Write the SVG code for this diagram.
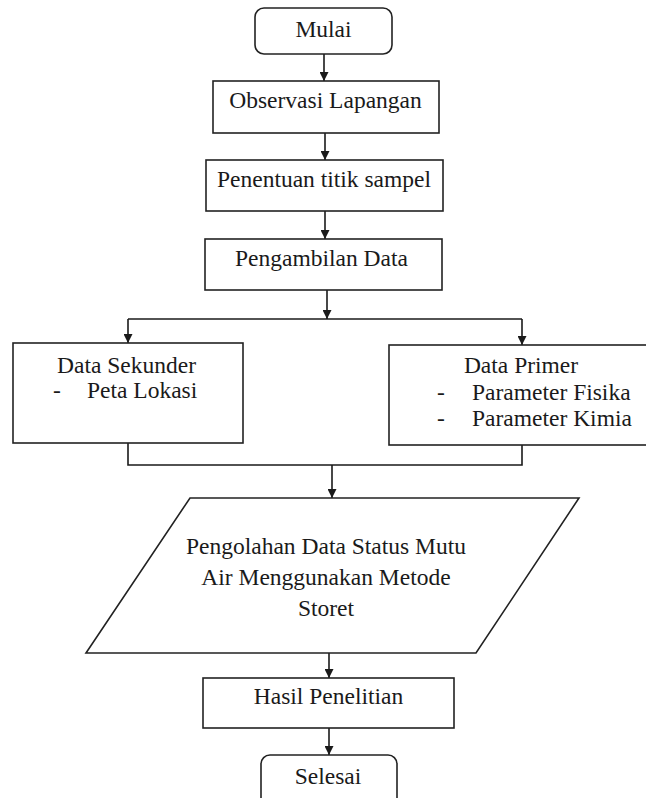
<svg xmlns="http://www.w3.org/2000/svg" width="646" height="798" viewBox="0 0 646 798">
<defs>
<marker id="ah" viewBox="0 0 10 10" refX="10" refY="5" markerWidth="9" markerHeight="9" markerUnits="userSpaceOnUse" orient="auto">
<path d="M0,0 L10,5 L0,10 z" fill="#1a1a1a"/>
</marker>
<style>
.box{fill:#fff;stroke:#222;stroke-width:1.6}
.t{font-family:"Liberation Serif","Times New Roman",serif;font-size:23.5px;fill:#1a1a1a}
.m{text-anchor:middle}
.c{fill:none;stroke:#1a1a1a;stroke-width:1.6}
.a{marker-end:url(#ah)}
</style>
</defs>
<rect width="646" height="798" fill="#fff"/>
<g id="connectors">
<line class="c a" x1="324" y1="54" x2="324" y2="81"/>
<line class="c a" x1="325" y1="133" x2="325" y2="160"/>
<line class="c a" x1="325" y1="211" x2="325" y2="239"/>
<line class="c a" x1="327" y1="290" x2="327" y2="319"/>
<polyline class="c" points="128,319 522,319"/>
<line class="c a" x1="128" y1="319" x2="128" y2="343"/>
<line class="c a" x1="522" y1="319" x2="522" y2="345"/>
<polyline class="c" points="128,443 128,465 522,465 522,445"/>
<line class="c a" x1="332" y1="465" x2="332" y2="498"/>
<line class="c a" x1="329" y1="653" x2="329" y2="678"/>
<line class="c a" x1="329" y1="728" x2="329" y2="755"/>
</g>
<g id="mulai">
<rect class="box" x="255" y="8" width="137" height="46" rx="9"/>
<text class="t m" x="323.5" y="37">Mulai</text>
</g>
<g id="observasi">
<rect class="box" x="213" y="81" width="226" height="52"/>
<text class="t m" x="325.5" y="108">Observasi Lapangan</text>
</g>
<g id="penentuan">
<rect class="box" x="206" y="160" width="237" height="51"/>
<text class="t m" x="324" y="187">Penentuan titik sampel</text>
</g>
<g id="pengambilan">
<rect class="box" x="205" y="239" width="237" height="51"/>
<text class="t m" x="321.5" y="266">Pengambilan Data</text>
</g>
<g id="sekunder">
<rect class="box" x="13" y="343" width="230" height="100"/>
<text class="t m" x="126.5" y="373">Data Sekunder</text>
<text class="t" x="53" y="398">-</text>
<text class="t" x="87" y="398">Peta Lokasi</text>
</g>
<g id="primer">
<rect class="box" x="389" y="345" width="270" height="100"/>
<text class="t m" x="521" y="373">Data Primer</text>
<text class="t" x="437" y="400">-</text>
<text class="t" x="472" y="400">Parameter Fisika</text>
<text class="t" x="437" y="426">-</text>
<text class="t" x="472" y="426">Parameter Kimia</text>
</g>
<g id="pengolahan">
<polygon class="box" points="190,498 579,498 476,653 86,653"/>
<text class="t m" x="326" y="554">Pengolahan Data Status Mutu</text>
<text class="t m" x="326" y="585">Air Menggunakan Metode</text>
<text class="t m" x="326" y="616">Storet</text>
</g>
<g id="hasil">
<rect class="box" x="203" y="678" width="251" height="50"/>
<text class="t m" x="328.5" y="704">Hasil Penelitian</text>
</g>
<g id="selesai">
<rect class="box" x="261" y="755" width="136" height="52" rx="9"/>
<text class="t m" x="328" y="784">Selesai</text>
</g>
</svg>
